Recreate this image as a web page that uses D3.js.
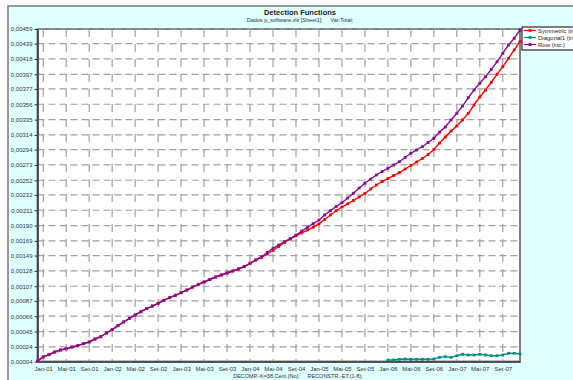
<!DOCTYPE html>
<html>
<head>
<meta charset="utf-8">
<script src="https://cdn.jsdelivr.net/npm/d3@7"></script>
<style>
  body { margin: 0; background: #fff; }
  text { font-family: "Liberation Sans", Arial, sans-serif; }
</style>
</head>
<body>
<svg id="chart" width="573" height="380"></svg>
<script>
// month names as used on the axis (Portuguese)
const monthNames = ["Jan","Fev","Mar","Abr","Mai","Jun","Jul","Ago","Set","Out","Nov","Dez"];
const years = ["01","02","03","04","05","06","07"];
const categories = ["Dez-00"];
years.forEach(y => monthNames.forEach(m => categories.push(`${m}-${y}`)));

const xTickLabels = ["Jan-01","Mai-01","Set-01","Jan-02","Mai-02","Set-02","Jan-03","Mai-03","Set-03",
  "Jan-04","Mai-04","Set-04","Jan-05","Mai-05","Set-05","Jan-06","Mai-06","Set-06","Jan-07","Mai-07","Set-07"];

const yTickLabels = ["0,00004","0,00024","0,00045","0,00066","0,00087","0,00107","0,00128","0,00149",
  "0,00169","0,00190","0,00211","0,00232","0,00252","0,00273","0,00294","0,00314","0,00335","0,00356",
  "0,00377","0,00397","0,00418","0,00439","0,00459"];

// Row (inc.) - Dez-00 .. Dez-07
const rowInc = [
  4.5e-5, 10.2e-5, 13.3e-5, 17.0e-5, 19.7e-5, 21.5e-5, 23.8e-5, 25.6e-5, 28.4e-5, 30.7e-5,
  34.8e-5, 37.9e-5, 43.0e-5, 47.5e-5, 53.0e-5, 58.1e-5, 63.1e-5, 67.6e-5, 72.1e-5, 76.3e-5,
  79.9e-5, 83.6e-5, 87.7e-5, 91.3e-5, 94.6e-5, 98.1e-5, 101.8e-5, 105.9e-5, 109.6e-5, 112.8e-5,
  116.2e-5, 119.6e-5, 122.4e-5, 125.1e-5, 127.8e-5, 130.6e-5, 134.0e-5, 138.4e-5, 142.9e-5, 147.4e-5,
  153.2e-5, 158.9e-5, 163.4e-5, 167.9e-5, 172.3e-5, 177.1e-5, 182.6e-5, 187.6e-5, 192.8e-5, 197.6e-5,
  204.5e-5, 210.4e-5, 216.1e-5, 221.3e-5, 227.7e-5, 234.2e-5, 241.4e-5, 247.9e-5, 253.7e-5, 259.2e-5,
  264.0e-5, 268.4e-5, 272.9e-5, 277.4e-5, 283.2e-5, 288.9e-5, 293.4e-5, 297.9e-5, 303.7e-5, 309.4e-5,
  318.0e-5, 324.9e-5, 334.5e-5, 343.6e-5, 353.6e-5, 365.0e-5, 375.5e-5, 384.7e-5, 393.7e-5, 403.8e-5,
  414.2e-5, 425.7e-5, 437.1e-5, 446.3e-5, 457.6e-5
];

// Symmetric (inc.) - Dez-00 .. Dez-07
const symmetricInc = [
  4.5e-5, 10.2e-5, 13.3e-5, 17.0e-5, 19.7e-5, 21.5e-5, 23.8e-5, 25.6e-5, 28.4e-5, 30.7e-5,
  34.8e-5, 37.9e-5, 43.0e-5, 47.5e-5, 53.0e-5, 58.1e-5, 63.1e-5, 67.6e-5, 72.1e-5, 76.3e-5,
  79.9e-5, 83.6e-5, 87.7e-5, 91.3e-5, 94.6e-5, 98.1e-5, 101.8e-5, 105.9e-5, 109.6e-5, 112.8e-5,
  116.2e-5, 119.6e-5, 122.4e-5, 125.1e-5, 127.8e-5, 130.6e-5, 134.0e-5, 138.4e-5, 142.9e-5, 146.3e-5,
  151.1e-5, 155.9e-5, 161.4e-5, 166.8e-5, 171.6e-5, 176.0e-5, 180.0e-5, 183.9e-5, 187.8e-5, 192.3e-5,
  198.3e-5, 204.5e-5, 210.3e-5, 215.4e-5, 219.8e-5, 224.3e-5, 229.1e-5, 233.9e-5, 240.1e-5, 245.5e-5,
  250.3e-5, 254.4e-5, 258.5e-5, 262.6e-5, 267.4e-5, 272.2e-5, 277.0e-5, 281.8e-5, 287.3e-5, 294.1e-5,
  303.0e-5, 311.2e-5, 319.4e-5, 326.3e-5, 334.5e-5, 343.6e-5, 355.0e-5, 365.9e-5, 375.5e-5, 386.1e-5,
  397.0e-5, 407.4e-5, 418.9e-5, 430.3e-5, 441.6e-5
];

// Diagonal1 (inc.) - Jan-06 .. Dez-07
const diagStart = "Jan-06";
const diagonal1Inc = [
  6.1e-5, 6.1e-5, 7.0e-5, 7.4e-5, 7.0e-5, 7.0e-5, 7.0e-5, 7.0e-5, 7.4e-5, 9.7e-5,
  10.6e-5, 9.7e-5, 11.9e-5, 13.9e-5, 12.9e-5, 12.9e-5, 13.9e-5, 12.9e-5, 11.9e-5, 11.9e-5,
  12.9e-5, 15.2e-5, 15.2e-5, 14.3e-5
];

const seriesNames = ["Symmetric (inc.)", "Diagonal1 (inc.)", "Row (inc.)"];
const seriesColors = ["#ff0000", "#008f80", "#8a0a96"];

const svg = d3.select("#chart");
const plot = { left: 37.5, right: 520, top: 29, bottom: 361.5 };

// chart frame (light cyan)
svg.append("rect")
  .attr("x", 8).attr("y", 6)
  .attr("width", 620).attr("height", 400)
  .attr("fill", "#e0ffff")
  .attr("stroke", "#7a7a7a")
  .attr("stroke-width", 1.5);

// plot area
svg.append("rect")
  .attr("x", plot.left).attr("y", plot.top)
  .attr("width", plot.right - plot.left).attr("height", plot.bottom - plot.top)
  .attr("fill", "#fff")
  .attr("stroke", "#808080")
  .attr("stroke-width", 2);

const x = d3.scalePoint()
  .domain(categories)
  .range([plot.left, plot.right]);

const yTicks = yTickLabels.map(s => +s.replace(",", "."));
const y = d3.scaleLinear()
  .domain([d3.min(yTicks), d3.max(yTicks)])
  .range([plot.bottom, plot.top]);

// grid
svg.append("g")
  .selectAll("line")
  .data(yTicks)
  .enter()
  .append("line")
  .attr("x1", plot.left).attr("x2", plot.right)
  .attr("y1", d => y(d)).attr("y2", d => y(d))
  .attr("stroke", "#a0a0a0")
  .attr("stroke-width", 1.2)
  .attr("stroke-dasharray", "7,4");

svg.append("g")
  .selectAll("line")
  .data(xTickLabels)
  .enter()
  .append("line")
  .attr("x1", d => x(d)).attr("x2", d => x(d))
  .attr("y1", plot.top).attr("y2", plot.bottom)
  .attr("stroke", "#a0a0a0")
  .attr("stroke-width", 1.2)
  .attr("stroke-dasharray", "8,7");

// axes
const yAxis = svg.append("g")
  .attr("transform", `translate(${plot.left},0)`)
  .call(d3.axisLeft(y)
    .tickValues(yTicks)
    .tickFormat((d, i) => yTickLabels[i])
    .tickSize(3)
    .tickPadding(2)
    .tickSizeOuter(0));

const xAxis = svg.append("g")
  .attr("transform", `translate(0,${plot.bottom})`)
  .call(d3.axisBottom(x)
    .tickValues(xTickLabels)
    .tickSize(0)
    .tickPadding(5)
    .tickSizeOuter(0));

[yAxis, xAxis].forEach(a => {
  a.select(".domain").attr("stroke", "#333").attr("stroke-width", 1.5);
  a.selectAll(".tick line").attr("stroke", "#333");
  a.selectAll("text")
    .style("font-size", "6px")
    .attr("fill", "#333");
});

// series
const allSeries = [
  { name: seriesNames[0], color: seriesColors[0], values: symmetricInc.map((v, i) => ({ c: categories[i], v })) },
  { name: seriesNames[1], color: seriesColors[1], values: diagonal1Inc.map((v, i) => ({ c: categories[categories.indexOf(diagStart) + i], v })) },
  { name: seriesNames[2], color: seriesColors[2], values: rowInc.map((v, i) => ({ c: categories[i], v })) }
];

const line = d3.line()
  .x(d => x(d.c))
  .y(d => y(d.v));

allSeries.forEach(s => {
  svg.append("path")
    .datum(s.values)
    .attr("fill", "none")
    .attr("stroke", s.color)
    .attr("stroke-width", 1.4)
    .attr("d", line);

  svg.append("g")
    .selectAll("rect")
    .data(s.values)
    .enter()
    .append("rect")
    .attr("x", d => x(d.c) - 1.4)
    .attr("y", d => y(d.v) - 1.4)
    .attr("width", 2.8)
    .attr("height", 2.8)
    .attr("fill", s.color);
});

// titles
svg.append("text")
  .attr("x", 300).attr("y", 14.5)
  .attr("text-anchor", "middle")
  .style("font-size", "7.5px")
  .style("font-weight", "bold")
  .attr("fill", "#222")
  .text("Detection Functions");

svg.append("text")
  .attr("x", 300).attr("y", 22)
  .attr("text-anchor", "middle")
  .style("font-size", "5.5px")
  .attr("fill", "#333")
  .attr("xml:space", "preserve")
  .text("Dados p_software.xls [Sheet1];     Var:Total;");

svg.append("text")
  .attr("x", 298).attr("y", 378)
  .attr("text-anchor", "middle")
  .style("font-size", "5.5px")
  .attr("fill", "#333")
  .attr("xml:space", "preserve")
  .text("DECOMP.-K=38,Cent.(No);     RECONSTR.-ET:(1-8);");

// legend
const legend = svg.append("g").attr("transform", "translate(522,27)");
legend.append("rect")
  .attr("width", 80).attr("height", 23)
  .attr("fill", "#fff")
  .attr("stroke", "#000")
  .attr("stroke-width", 1);

allSeries.forEach((s, i) => {
  const ly = 3.5 + i * 7;
  legend.append("line")
    .attr("x1", 2).attr("x2", 14)
    .attr("y1", ly).attr("y2", ly)
    .attr("stroke", s.color)
    .attr("stroke-width", 1.2);
  legend.append("rect")
    .attr("x", 6.6).attr("y", ly - 1.4)
    .attr("width", 2.8).attr("height", 2.8)
    .attr("fill", s.color);
  legend.append("text")
    .attr("x", 16).attr("y", ly + 2)
    .style("font-size", "6px")
    .attr("fill", "#222")
    .text(s.name);
});
</script>
</body>
</html>
